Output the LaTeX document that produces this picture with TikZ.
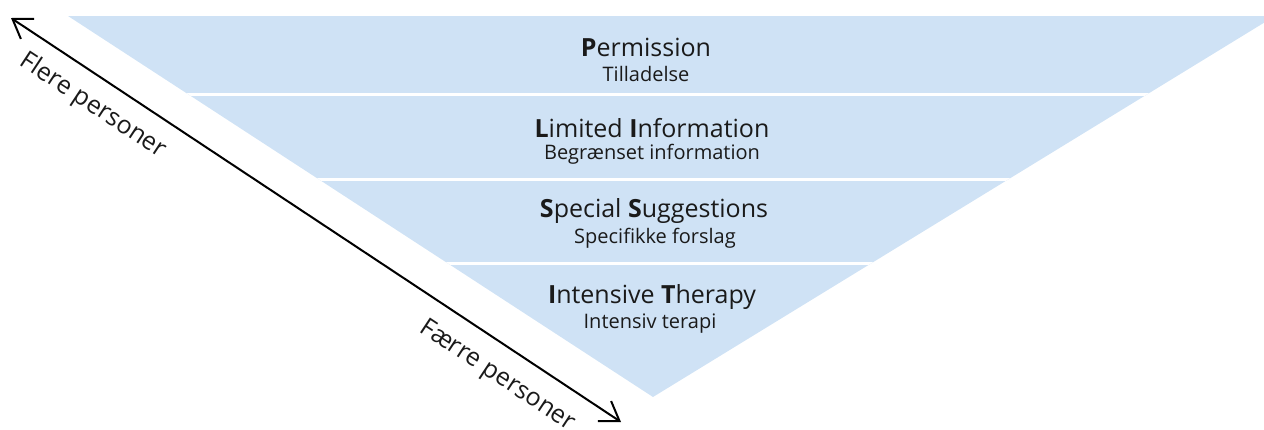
\documentclass[tikz,border=0pt]{standalone}
\usepackage{fontspec}
\setmainfont{Open Sans}
\usetikzlibrary{arrows.meta}
\definecolor{bandblue}{RGB}{207,226,245}
\definecolor{txt}{RGB}{26,26,26}
\tikzset{
  titletext/.style={text=txt, font=\fontsize{25}{28}\selectfont, inner sep=0pt, anchor=center},
  subtext/.style={text=txt, font=\fontsize{20}{23}\selectfont, inner sep=0pt, anchor=center},
  sidetext/.style={text=txt, font=\fontsize{25}{28}\selectfont, inner sep=0pt, anchor=center, rotate=-33.5},
  axisarrow/.style={black, line width=2pt, {Straight Barb[length=18pt,width=24pt]}-{Straight Barb[length=18pt,width=24pt]}},
  sep/.style={white, line width=2.6pt}
}
\begin{document}
\begin{tikzpicture}[x=1pt, y=-1pt]
\useasboundingbox (0,0) rectangle (1264,429);
\begin{scope}
  \clip (0,0) rectangle (1264,429);
  \fill[bandblue] (68,16) -- (1275,16) -- (653,397) -- cycle;
  \clip (68,16) -- (1275,16) -- (653,397) -- cycle;
  \draw[sep] (0,94.5) -- (1300,94.5);
  \draw[sep] (0,179.3) -- (1300,179.3);
  \draw[sep] (0,263.7) -- (1300,263.7);
\end{scope}
\node[titletext] (t1) at (646,47) {\textbf{P}ermission};
\node[subtext] (s1) at (646,74) {Tilladelse};
\node[titletext] (t2) at (652,128) {\textbf{L}imited \textbf{I}nformation};
\node[subtext] (s2) at (652,154) {Begrænset information};
\node[titletext] (t3) at (654,211) {\textbf{S}pecial \textbf{S}uggestions};
\node[subtext] (s3) at (655,238) {Specifikke forslag};
\node[titletext] (t4) at (652,297) {\textbf{I}ntensive \textbf{T}herapy};
\node[subtext] (s4) at (650,324) {Intensiv terapi};
\coordinate (top) at (11,18);
\coordinate (bot) at (621,422);
\draw[axisarrow] (top) -- (bot);
\node[sidetext] (flere) at (93,106) {Flere personer};
\node[sidetext] (faerre) at (497,376) {Færre personer};
\end{tikzpicture}
\end{document}
